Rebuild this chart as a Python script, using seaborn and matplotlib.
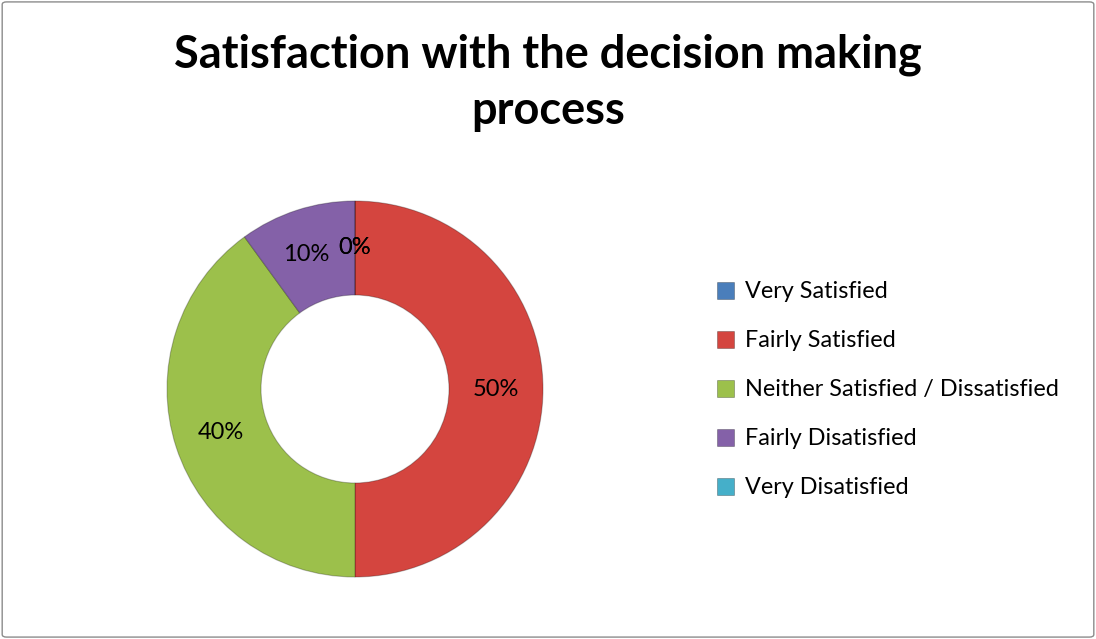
import matplotlib
matplotlib.use("Agg")
import matplotlib.pyplot as plt
from matplotlib.patches import FancyBboxPatch
import numpy as np
import seaborn as sns

categories = ["Very Satisfied", "Fairly Satisfied", "Neither Satisfied / Dissatisfied",
              "Fairly Disatisfied", "Very Disatisfied"]
values = [0, 50, 40, 10, 0]
labels = ["0%", "50%", "40%", "10%", "0%"]
colors_hex = ["#4A7EBB", "#D4453F", "#9CC04B", "#8461A8", "#45AFC9"]

sns.set_theme(style="white")
plt.rcParams["font.family"] = ["Lato", "DejaVu Sans"]
plt.rcParams["text.color"] = "black"
palette = sns.color_palette(colors_hex)

fig = plt.figure(figsize=(10.96, 6.39), dpi=100)
fig.patch.set_facecolor("white")

# chart area frame
frame = FancyBboxPatch((0.002, 0.003), 0.996, 0.994, boxstyle="round,pad=0,rounding_size=0.004",
                       transform=fig.transFigure, fill=False, edgecolor="#8C8C8C", linewidth=1.0)
fig.patches.append(frame)

fig.text(0.50, 0.870, "Satisfaction with the decision making\nprocess", ha="center", va="center",
         fontsize=32.5, fontweight="bold", color="black", linespacing=1.42)

# donut axes: center ~ (355, 389) px, outer radius ~188 px
radius_px = 188
cx, cy = 355, 639 - 389
ax = fig.add_axes([(cx - radius_px) / 1096, (cy - radius_px) / 639,
                   2 * radius_px / 1096, 2 * radius_px / 639])

wedges, _ = ax.pie(values, colors=palette, startangle=90, counterclock=False,
                   radius=1.0, wedgeprops=dict(width=0.5, edgecolor=(0, 0, 0, 0.25), linewidth=0.8))
ax.set_aspect("equal")
ax.set_xlim(-1, 1)
ax.set_ylim(-1, 1)
ax.axis("off")

# data labels at the middle of the ring
total = sum(values)
start = 90.0
for val, lab in zip(values, labels):
    sweep = 360.0 * val / total
    mid = np.deg2rad(start - sweep / 2)
    r = 0.75
    x, y = r * np.cos(mid), r * np.sin(mid)
    if lab == "10%":
        x -= 0.03
    ax.text(x, y, lab, ha="center", va="center", fontsize=17, color="black")
    start -= sweep

# legend
handles = [plt.Rectangle((0, 0), 1, 1, facecolor=c, edgecolor=(0, 0, 0, 0.3), linewidth=0.6)
           for c in palette]
leg = fig.legend(handles, categories, loc="center left", bbox_to_anchor=(0.635, 0.39),
                 frameon=False, fontsize=16.8, handlelength=0.75, handleheight=0.75,
                 handletextpad=0.45, labelspacing=1.2)
for t in leg.get_texts():
    t.set_color("black")

fig.savefig("out.png", dpi=100, facecolor="white")
